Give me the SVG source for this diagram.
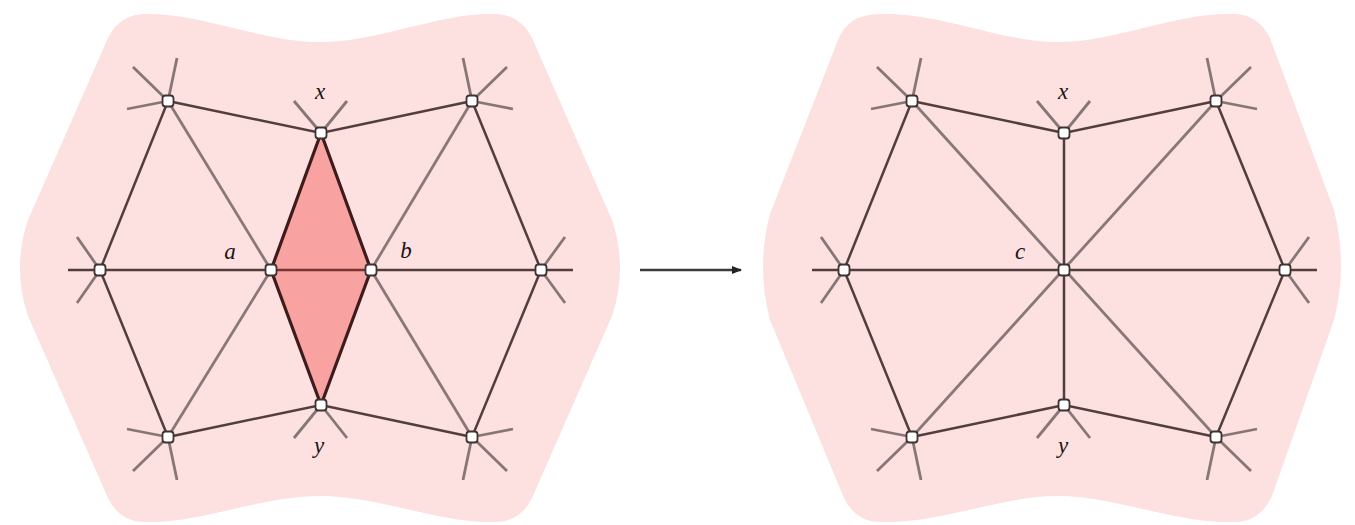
<svg xmlns="http://www.w3.org/2000/svg" width="1355" height="525" viewBox="0 0 1355 525">
  <defs>
    <style>
      .blob { fill: #fde0e0; }
      .dark { stroke: #523e3e; stroke-width: 2.5; fill: none; stroke-linecap: butt; }
      .grey { stroke: #8a7878; stroke-width: 2.8; fill: none; }
      .stub { stroke: #877676; stroke-width: 2.8; fill: none; }
      .node { fill: #ffffff; stroke: #3d3333; stroke-width: 1.8; }
      .lbl { font-family: "Liberation Serif", "DejaVu Serif", serif; font-style: italic; font-size: 23px; fill: #1a1414; text-anchor: middle; }
      .face { fill: #f9a2a2; }
      .faceEdge { stroke: #3e1c1c; stroke-width: 3.2; fill: none; stroke-linejoin: round; }
      .arrow { stroke: #3a3a3a; stroke-width: 2.4; fill: none; }
    </style>
    <marker id="head" viewBox="0 0 10 8" refX="9" refY="4" markerWidth="10" markerHeight="8" markerUnits="userSpaceOnUse" orient="auto">
      <path d="M0,0 L10,4 L0,8 Z" fill="#222"/>
    </marker>
    <!-- vertex marker -->
    <rect id="v" x="-5.5" y="-5.5" width="11" height="11" rx="3" class="node"/>
  </defs>

  <!-- shaded regions behind each mesh -->
  <path class="blob" d="M145,14 C200,12 260,42 320,42 C380,42 440,12 495,14 Q520,14 532,38 L612,220 Q628,268 612,316 L532,498 Q520,522 495,522 C440,524 380,496 320,496 C260,496 200,524 145,522 Q120,522 108,498 L28,316 Q12,268 28,220 L108,38 Q120,14 145,14 Z"/>
  <path class="blob" d="M880,14 C940,12 1000,42 1058,42 C1116,42 1176,12 1234,14 Q1258,14 1270,38 L1334,210 Q1348,267 1334,320 L1272,496 Q1260,522 1234,522 C1176,524 1116,496 1058,496 C1000,496 940,524 880,522 Q856,522 844,498 L770,320 Q756,267 770,214 L838,40 Q848,14 880,14 Z"/>

  <g id="connectors">
    <!-- before the edge collapse -->
    <g id="mesh-before">
      <path class="stub" d="M168,101 l9,-43 M168,101 l-35,-34 M168,101 l-41,8
                            M472,101 l-9,-43 M472,101 l35,-34 M472,101 l41,8
                            M168,437 l9,43 M168,437 l-35,34 M168,437 l-41,-8
                            M472,437 l-9,43 M472,437 l35,34 M472,437 l41,-8
                            M321,133 l-27,-32 M321,133 l26,-32
                            M321,405 l-27,33 M321,405 l26,33
                            M100,270 l-23,-33 M100,270 l-23,33
                            M541,270 l24,-33 M541,270 l24,33"/>
      <path class="grey" d="M168,101 L271,270 L168,437 M472,101 L371,270 L472,437"/>
      <path class="dark" d="M168,101 L321,133 L472,101 M168,437 L321,405 L472,437
                            M168,101 L100,270 L168,437 M472,101 L541,270 L472,437
                            M68,270 L271,270 M371,270 L573,270"/>
      <polygon class="face" points="321,133 271,270 321,405 371,270"/>
      <line x1="271" y1="270" x2="371" y2="270" stroke="#7a3434" stroke-width="2.6"/>
      <polygon class="faceEdge" points="321,133 271,270 321,405 371,270"/>
    </g>

    <!-- transition arrow -->
    <line class="arrow" x1="640" y1="270" x2="741" y2="270" marker-end="url(#head)"/>

    <!-- after the edge collapse -->
    <g id="mesh-after">
      <path class="stub" d="M912,101 l9,-43 M912,101 l-35,-34 M912,101 l-41,8
                            M1216,101 l-9,-43 M1216,101 l35,-34 M1216,101 l41,8
                            M912,437 l9,43 M912,437 l-35,34 M912,437 l-41,-8
                            M1216,437 l-9,43 M1216,437 l35,34 M1216,437 l41,-8
                            M1064,133 l-27,-32 M1064,133 l26,-32
                            M1064,405 l-27,33 M1064,405 l26,33
                            M844,270 l-23,-33 M844,270 l-23,33
                            M1285,270 l24,-33 M1285,270 l24,33"/>
      <path class="grey" d="M912,101 L1216,437 M1216,101 L912,437"/>
      <path class="dark" d="M912,101 L1064,133 L1216,101 M912,437 L1064,405 L1216,437
                            M912,101 L844,270 L912,437 M1216,101 L1285,270 L1216,437
                            M812,270 L1317,270 M1064,133 L1064,405"/>
    </g>
  </g>

  <!-- vertices -->
  <g id="node-tl1"><use href="#v" x="168" y="101"/></g>
  <g id="node-x1"><use href="#v" x="321" y="133"/><text class="lbl" x="320" y="99">x</text></g>
  <g id="node-tr1"><use href="#v" x="472" y="101"/></g>
  <g id="node-l1"><use href="#v" x="100" y="270"/></g>
  <g id="node-a"><use href="#v" x="271" y="270"/><text class="lbl" x="230" y="259">a</text></g>
  <g id="node-b"><use href="#v" x="371" y="270"/><text class="lbl" x="406" y="258">b</text></g>
  <g id="node-r1"><use href="#v" x="541" y="270"/></g>
  <g id="node-bl1"><use href="#v" x="168" y="437"/></g>
  <g id="node-y1"><use href="#v" x="321" y="405"/><text class="lbl" x="319" y="453">y</text></g>
  <g id="node-br1"><use href="#v" x="472" y="437"/></g>

  <g id="node-tl2"><use href="#v" x="912" y="101"/></g>
  <g id="node-x2"><use href="#v" x="1064" y="133"/><text class="lbl" x="1063" y="99">x</text></g>
  <g id="node-tr2"><use href="#v" x="1216" y="101"/></g>
  <g id="node-l2"><use href="#v" x="844" y="270"/></g>
  <g id="node-c"><use href="#v" x="1064" y="270"/><text class="lbl" x="1020" y="259">c</text></g>
  <g id="node-r2"><use href="#v" x="1285" y="270"/></g>
  <g id="node-bl2"><use href="#v" x="912" y="437"/></g>
  <g id="node-y2"><use href="#v" x="1064" y="405"/><text class="lbl" x="1063" y="453">y</text></g>
  <g id="node-br2"><use href="#v" x="1216" y="437"/></g>
</svg>
